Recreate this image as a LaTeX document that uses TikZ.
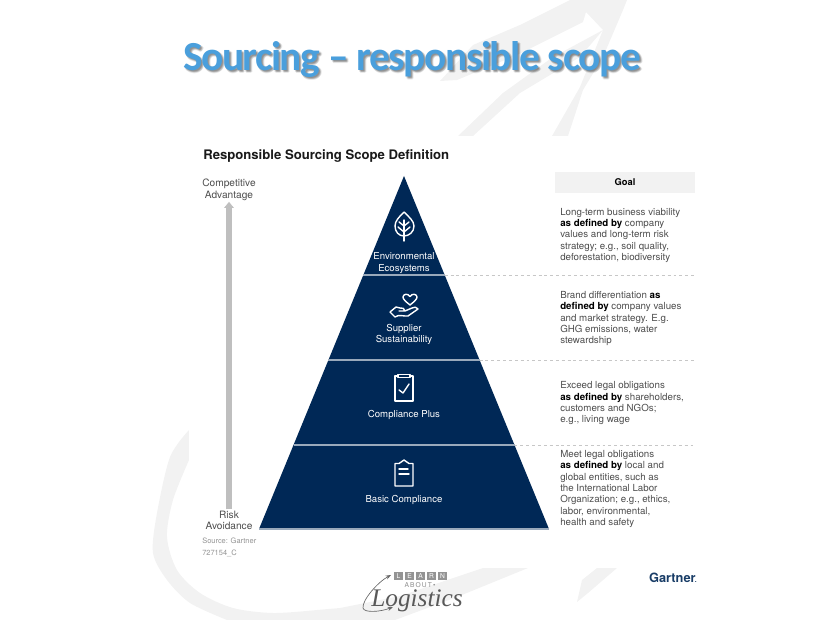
\documentclass[tikz,border=0pt]{standalone}
\usepackage{fontspec}
\usepackage{tikz}
\usetikzlibrary{arrows.meta,calc}
\setmainfont{TeX Gyre Heros}
\newfontfamily\titlefont[LetterSpace=-3.5]{Carlito}
\newfontfamily\logofont{Liberation Serif}
\definecolor{navy}{HTML}{002856}
\definecolor{wmgray}{HTML}{F2F2F2}
\definecolor{titleblue}{HTML}{4A9FDC}
\definecolor{bodygray}{HTML}{4D4D4D}
\tikzset{
	watermark/.style={fill=wmgray},
	titletext/.style={anchor=base,inner sep=0pt,font=\titlefont\bfseries\fontsize{31}{31}\selectfont},
	tier/.style={text=white,align=center,font=\fontsize{7.2}{8.6}\selectfont},
	goaltext/.style={anchor=west,align=left,text=bodygray,inner sep=0pt,font=\fontsize{7.3}{8.5}\selectfont},
	sidelabel/.style={align=center,text=bodygray,inner sep=1pt,font=\fontsize{7.6}{8.8}\selectfont},
	divider/.style={draw=white!60!navy,line width=0.8pt},
	dashline/.style={draw=black!22,dashed,dash pattern=on 2.2pt off 2.2pt,line width=0.5pt},
	icon/.style={draw=white,line width=1.05pt,line cap=round,line join=round},
	logobox/.style={fill=black!42,text=white,minimum width=7pt,minimum height=6pt,inner sep=0pt,font=\fontsize{5}{5}\selectfont}
}
\newcommand{\asdefined}{\textcolor{black}{\bfseries as defined by}}
\begin{document}
\begin{tikzpicture}[x=0.75pt,y=-0.75pt]
	\useasboundingbox (0,0) rectangle (827,620);
	% watermark
	\fill[watermark] (440,81) -- (473,45) -- (520,25) -- (570,0) -- (627,0) -- (623,10) -- (603,57) -- (583,90) -- (568,136) -- (552,136) -- (580,87) -- (603,30) -- (586,12) -- (583,22) -- (517,55) -- (457,80) -- cycle;
	\fill[watermark] (603,30) -- (553,57) -- (503,93) -- (458,136) -- (473,136) -- (520,93) -- (580,57) -- cycle;
	\fill[watermark] plot[smooth] coordinates {(189,430) (170,457) (157,513) (153,553) (167,580) (190,603) (227,620)} -- (395,620) -- (457,597) -- (528,568) -- (483,568) -- (400,596) -- (340,608) -- plot[smooth] coordinates {(317,610) (273,613) (233,608) (200,593) (177,570) (167,537) (173,500) (189,460)} -- cycle;
	\fill[watermark] (597,568) -- (617,568) -- (588,593) -- (577,602) -- (582,580) -- cycle;
	\fill[white] (189,136) rectangle (720,568);
	% title
	\foreach \dx/\dy [count=\i] in {2/2,1/2,2/1,3/2,2/3,1/1}
		\node[name=shadow\i,titletext,text=black,opacity=0.09] at (412+\dx,71+\dy) {Sourcing – responsible scope};
	\node (title) [titletext,text=titleblue] at (412,71) {Sourcing – responsible scope};
	\node (heading) [anchor=base west,inner sep=0pt,text=black!90,font=\bfseries\fontsize{9.85}{10}\selectfont] at (203,160) {Responsible Sourcing Scope Definition};
	% pyramid
	\coordinate (apex) at (404,176);
	\coordinate (baseL) at (259,529);
	\coordinate (baseR) at (549,529);
	\coordinate (ecoL) at (363.3,275);
	\coordinate (ecoR) at (444.7,275);
	\coordinate (supL) at (328.4,360);
	\coordinate (supR) at (479.6,360);
	\coordinate (plusL) at (293.5,445);
	\coordinate (plusR) at (514.5,445);
	\coordinate (ecoEnd) at (695,275);
	\coordinate (supEnd) at (695,360);
	\coordinate (plusEnd) at (695,445);
	\fill[navy] (apex) -- (baseR) -- (baseL) -- cycle;
	\draw[divider] (ecoL) -- (ecoR);
	\draw[divider] (supL) -- (supR);
	\draw[divider] (plusL) -- (plusR);
	\draw[divider] (baseL) -- (baseR);
	\draw[dashline] (ecoR) -- (ecoEnd);
	\draw[dashline] (supR) -- (supEnd);
	\draw[dashline] (plusR) -- (plusEnd);
	% tiers
	\node (eco) [tier] at (404,263) {Environmental\\Ecosystems};
	\node (sup) [tier] at (404,334.5) {Supplier\\Sustainability};
	\node (plus) [tier] at (404,414.5) {Compliance Plus};
	\node (basic) [tier] at (404,499.5) {Basic Compliance};
	% leaf
	\draw[icon] (404,212) .. controls (399,217) and (395,221) .. (395,226) .. controls (395,232) and (399,236) .. (404,236) .. controls (409,236) and (414,232) .. (414,226) .. controls (414,221) and (409,217) .. (404,212);
	\draw[icon] (404,220) -- (404,241);
	\draw[icon] (404,226) -- (399,222) (404,226) -- (409,222) (404,232) -- (398,227) (404,232) -- (410,227);
	% heart and hand
	\draw[icon] (410,305) .. controls (405,301) and (403,299) .. (403,297) .. controls (403,294) and (408,293) .. (410,296.5) .. controls (412,293) and (417,294) .. (417,297) .. controls (417,299) and (415,301) .. (410,305);
	\draw[icon] (390,312) -- (395,317) .. controls (399,314) and (403,316.5) .. (408,316) -- (418,309) .. controls (417,306.5) and (414,307) .. (412,308) -- (405,311) -- (399,311) (405,311) .. controls (405,308) and (402,308) .. (400,308) -- (396,307) -- (390,312);
	% clipboard check
	\draw[icon] (398,376) -- (395,376) -- (395,401) -- (413,401) -- (413,376) -- (410,376);
	\draw[icon] (398,374.5) rectangle (410,377.5);
	\draw[icon] (399,390) -- (403,393) -- (409,384);
	% clipboard text
	\draw[icon] (399,463.5) -- (395,463.5) -- (395,486) -- (413,486) -- (413,463.5) -- (409,463.5) -- (404,460) -- cycle;
	\draw[icon] (399,469) -- (408,469) (399,474) -- (409,474);
	% axis
	\node (comp) [sidelabel] at (229,189.5) {Competitive\\Advantage};
	\node (risk) [sidelabel] at (229,520.5) {Risk\\Avoidance};
	\draw[draw=black!25,line width=4.5pt,-{Triangle[length=4.5pt,width=7pt]}] (risk.north) -- (comp.south);
	\node (source) [anchor=west,inner sep=0pt,text=black!42,font=\fontsize{5.6}{6}\selectfont] at (202,541) {Source: Gartner};
	\node (code) [anchor=west,inner sep=0pt,text=black!42,font=\fontsize{5.6}{6}\selectfont] at (202,553) {727154\_C};
	% goals
	\node (goalbox) [fill=wmgray,minimum width=105pt,minimum height=15.75pt,inner sep=0pt,font=\bfseries\fontsize{7}{8}\selectfont] at (625,182.5) {Goal};
	\node (goalA) [goaltext] at (560,235.5) {Long-term business viability\\\asdefined{} company\\values and long-term risk\\strategy; e.g., soil quality,\\deforestation, biodiversity};
	\node (goalB) [goaltext] at (560,318.5) {Brand differentiation \textcolor{black}{\bfseries as}\\\textcolor{black}{\bfseries defined by} company values\\and market strategy. E.g.\\GHG emissions, water\\stewardship};
	\node (goalC) [goaltext] at (560,403.5) {Exceed legal obligations\\\asdefined{} shareholders,\\customers and NGOs;\\e.g., living wage};
	\node (goalD) [goaltext] at (560,489) {Meet legal obligations\\\asdefined{} local and\\global entities, such as\\the International Labor\\Organization; e.g., ethics,\\labor, environmental,\\health and safety};
	% logos
	\node (gartner) [text=navy!90!white,inner sep=0pt,font=\bfseries\fontsize{9.6}{10}\selectfont] at (673,578) {Gartner\kern-0.5pt{\tiny.}};
	\node (logoL) [logobox] at (398.5,576) {L};
	\node (logoE) [logobox] at (409.5,576) {E};
	\node (logoA) [logobox] at (420.5,576) {A};
	\node (logoR) [logobox] at (431.5,576) {R};
	\node (logoN) [logobox] at (442.5,576) {N};
	\node (about) [text=black!45,inner sep=0pt,font=\fontsize{5}{5}\selectfont] at (420,585) {A\,B\,O\,U\,T\,\textbullet};
	\node (logistics) [anchor=base west,text=black!65,inner sep=0pt,font=\logofont\itshape\fontsize{19}{19}\selectfont] at (371,606) {Logistics};
	\coordinate (swooshTop) at (391,575);
	\coordinate (swooshEnd) at (393,607);
	\draw[draw=black!60,line width=0.5pt,{Stealth[length=4pt]}-{Stealth[length=4pt]}] (swooshTop) .. controls (378,582) and (362,600) .. (363,608) .. controls (364,613) and (380,612) .. (swooshEnd);
\end{tikzpicture}
\end{document}
